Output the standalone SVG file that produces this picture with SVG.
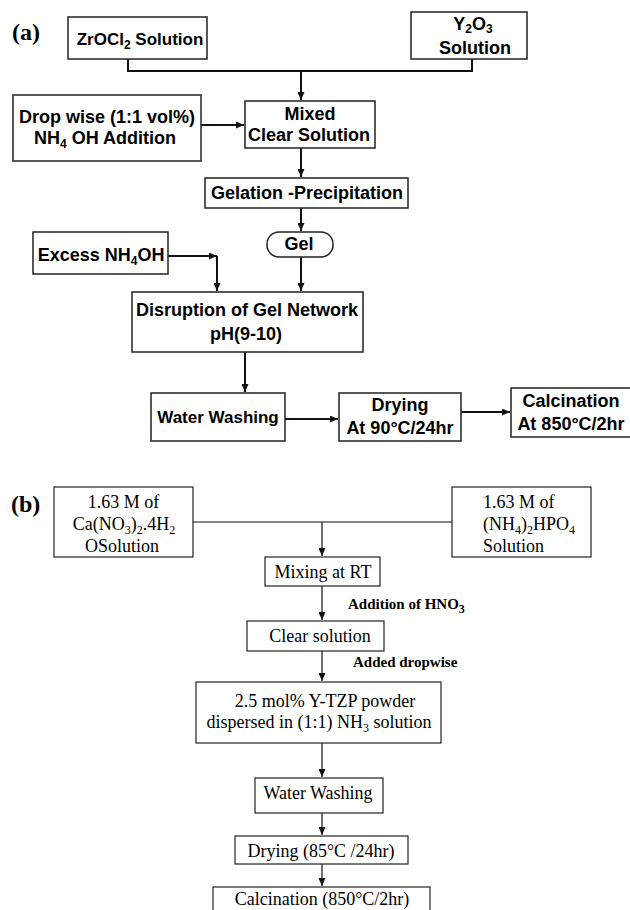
<svg xmlns="http://www.w3.org/2000/svg" width="630" height="910" viewBox="0 0 630 910">
<style>
.bg{fill:#fff}
.ba{fill:#fff;stroke:#222;stroke-width:1.5}
.bb{fill:#fff;stroke:#222;stroke-width:1.2}
.ta{font-family:"Liberation Sans",Arial,sans-serif;font-weight:bold;font-size:18px;fill:#000;text-anchor:middle}
.tb{font-family:"Liberation Serif","Times New Roman",serif;font-size:18px;fill:#000;text-anchor:middle}
.lb{font-family:"Liberation Serif","Times New Roman",serif;font-weight:bold;font-size:15px;fill:#000}
.pl{font-family:"Liberation Serif","Times New Roman",serif;font-weight:bold;font-size:24px;fill:#000}
.ca{stroke:#111;stroke-width:2;fill:none}
.cb{stroke:#111;stroke-width:1.2;fill:none}
.sub{font-size:12px}
</style>
<defs>
<marker id="ah" markerUnits="userSpaceOnUse" markerWidth="9" markerHeight="7" refX="8" refY="3.5" orient="auto"><path d="M0,0 L8,3.5 L0,7 z" fill="#111"/></marker>
<marker id="ahb" markerUnits="userSpaceOnUse" markerWidth="9" markerHeight="7" refX="8" refY="3.5" orient="auto"><path d="M0,0 L8,3.5 L0,7 z" fill="#111"/></marker>
</defs>
<rect class="bg" x="0" y="0" width="630" height="910"/>
<text class="pl" x="12" y="40">(a)</text>
<text class="pl" x="11" y="512">(b)</text>

<g id="connectors">
<path class="ca" d="M128,59 V71 H472 V59"/>
<path class="ca" d="M301,71 V100" marker-end="url(#ah)"/>
<path class="ca" d="M201,125 H244" marker-end="url(#ah)"/>
<path class="ca" d="M301,148 V177" marker-end="url(#ah)"/>
<path class="ca" d="M301,208 V231" marker-end="url(#ah)"/>
<path class="ca" d="M301,257 V291" marker-end="url(#ah)"/>
<path class="ca" d="M168,256 H217" marker-end="url(#ah)"/>
<path class="ca" d="M217,256 V291" marker-end="url(#ah)"/>
<path class="ca" d="M245,352 V392" marker-end="url(#ah)"/>
<path class="ca" d="M285,419 H338" marker-end="url(#ah)"/>
<path class="ca" d="M461,412 H510" marker-end="url(#ah)"/>

<path class="cb" d="M193,522 H452"/>
<path class="cb" d="M322,522 V556" marker-end="url(#ahb)"/>
<path class="cb" d="M322,586 V620" marker-end="url(#ahb)"/>
<path class="cb" d="M322,651 V681" marker-end="url(#ahb)"/>
<path class="cb" d="M322,743 V777" marker-end="url(#ahb)"/>
<path class="cb" d="M322,813 V835" marker-end="url(#ahb)"/>
<path class="cb" d="M322,864 V886" marker-end="url(#ahb)"/>
</g>

<g id="zrocl2">
<rect class="ba" x="68" y="17" width="139" height="42"/>
<text class="ta" x="140" y="45" style="font-size:17px">ZrOCl<tspan class="sub" dy="4">2</tspan><tspan dy="-4"> Solution</tspan></text>
</g>
<g id="y2o3">
<rect class="ba" x="411" y="12" width="116" height="47"/>
<text class="ta" x="473" y="30">Y<tspan class="sub" dy="3">2</tspan><tspan dy="-3">O</tspan><tspan class="sub" dy="3">3</tspan></text>
<text class="ta" x="475" y="54">Solution</text>
</g>
<g id="dropwise">
<rect class="ba" x="13" y="95" width="188" height="66"/>
<text class="ta" x="107" y="123">Drop wise (1:1 vol%)</text>
<text class="ta" x="105" y="144">NH<tspan class="sub" dy="4">4</tspan><tspan dy="-4"> OH Addition</tspan></text>
</g>
<g id="mixed">
<rect class="ba" x="245" y="101" width="130" height="47"/>
<text class="ta" x="310" y="120">Mixed</text>
<text class="ta" x="309" y="141">Clear Solution</text>
</g>
<g id="gelation">
<rect class="ba" x="205" y="178" width="203" height="30"/>
<text class="ta" x="307" y="199">Gelation -Precipitation</text>
</g>
<g id="gel">
<rect class="ba" x="267" y="232" width="66" height="25" rx="12"/>
<text class="ta" x="299" y="250">Gel</text>
</g>
<g id="excess">
<rect class="ba" x="33" y="232" width="135" height="42"/>
<text class="ta" x="101" y="261">Excess NH<tspan class="sub" dy="4">4</tspan><tspan dy="-4">OH</tspan></text>
</g>
<g id="disruption">
<rect class="ba" x="132" y="292" width="231" height="60"/>
<text class="ta" x="247" y="316">Disruption of Gel Network</text>
<text class="ta" x="246" y="340">pH(9-10)</text>
</g>
<g id="washa">
<rect class="ba" x="151" y="393" width="134" height="48"/>
<text class="ta" x="218" y="423" style="font-size:17px">Water Washing</text>
</g>
<g id="drya">
<rect class="ba" x="339" y="393" width="122" height="48"/>
<text class="ta" x="400" y="411">Drying</text>
<text class="ta" x="400" y="434">At 90°C/24hr</text>
</g>
<g id="calca">
<rect class="ba" x="511" y="388" width="125" height="49"/>
<text class="ta" x="571" y="407">Calcination</text>
<text class="ta" x="571" y="430">At 850°C/2hr</text>
</g>

<g id="canitrate">
<rect class="bb" x="54" y="487" width="139" height="70"/>
<text class="tb" x="123.5" y="508">1.63 M of</text>
<text class="tb" x="124" y="530">Ca(NO<tspan class="sub" dy="4">3</tspan><tspan dy="-4">)</tspan><tspan class="sub" dy="4">2</tspan><tspan dy="-4">.4H</tspan><tspan class="sub" dy="4">2</tspan></text>
<text class="tb" x="122" y="552">OSolution</text>
</g>
<g id="phosphate">
<rect class="bb" x="452" y="487" width="139" height="70"/>
<text class="tb" x="483" y="508" style="text-anchor:start">1.63 M of</text>
<text class="tb" x="483" y="530" style="text-anchor:start">(NH<tspan class="sub" dy="4">4</tspan><tspan dy="-4">)</tspan><tspan class="sub" dy="4">2</tspan><tspan dy="-4">HPO</tspan><tspan class="sub" dy="4">4</tspan></text>
<text class="tb" x="483" y="552" style="text-anchor:start">Solution</text>
</g>
<g id="mixing">
<rect class="bb" x="265" y="557" width="115" height="29"/>
<text class="tb" x="323" y="578">Mixing at RT</text>
</g>
<text class="lb" x="348" y="609">Addition of HNO<tspan class="sub" dy="4">3</tspan></text>
<g id="clear">
<rect class="bb" x="247" y="621" width="137" height="30"/>
<text class="tb" x="320" y="642">Clear solution</text>
</g>
<text class="lb" x="353" y="667">Added dropwise</text>
<g id="ytzp">
<rect class="bb" x="196" y="682" width="245" height="61"/>
<text class="tb" x="325" y="707">2.5 mol% Y-TZP powder</text>
<text class="tb" x="319" y="728">dispersed in (1:1) NH<tspan class="sub" dy="4">3</tspan><tspan dy="-4"> solution</tspan></text>
</g>
<g id="washb">
<rect class="bb" x="255" y="778" width="128" height="35"/>
<text class="tb" x="318" y="799">Water Washing</text>
</g>
<g id="dryb">
<rect class="bb" x="235" y="836" width="173" height="28"/>
<text class="tb" x="321" y="857">Drying (85°C /24hr)</text>
</g>
<g id="calcb">
<rect class="bb" x="213" y="887" width="217" height="32"/>
<text class="tb" x="322" y="905">Calcination (850°C/2hr)</text>
</g>
</svg>
